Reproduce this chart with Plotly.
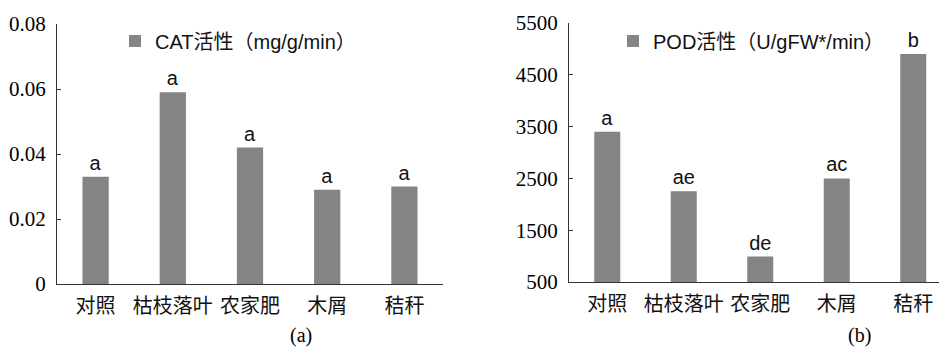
import plotly.graph_objects as go

# Treatments shared by both panels
categories = ["对照", "枯枝落叶", "农家肥", "木屑", "秸秆"]

# Panel (a): CAT activity
cat_values = [0.033, 0.059, 0.042, 0.029, 0.030]
cat_letters = ["a", "a", "a", "a", "a"]
cat_ticks = [0, 0.02, 0.04, 0.06, 0.08]
cat_ticktext = ["0", "0.02", "0.04", "0.06", "0.08"]

# Panel (b): POD activity
pod_values = [3400, 2250, 990, 2500, 4900]
pod_letters = ["a", "ae", "de", "ac", "b"]
pod_ticks = [500, 1500, 2500, 3500, 4500, 5500]
pod_ticktext = ["500", "1500", "2500", "3500", "4500", "5500"]

W, H = 939, 348
BAR = "#848484"
AXIS = "#333333"
SERIF = "Liberation Serif, Times New Roman, serif"
SANS = "Liberation Sans, Noto Sans CJK SC"
CJK = "Noto Sans CJK SC"


def px_x(p):
    return p / W


def px_y(p):
    return 1 - p / H


fig = go.Figure()

fig.add_trace(go.Bar(
    x=categories, y=cat_values, name="CAT活性（mg/g/min）",
    text=cat_letters, textposition="outside", cliponaxis=False,
    constraintext="none",
    textfont=dict(family=SANS, size=20, color="#111"),
    marker=dict(color=BAR, line=dict(width=0)),
    width=0.34, xaxis="x", yaxis="y", legend="legend",
))

fig.add_trace(go.Bar(
    x=categories, y=pod_values, name="POD活性（U/gFW*/min）",
    text=pod_letters, textposition="outside", cliponaxis=False,
    constraintext="none",
    textfont=dict(family=SANS, size=20, color="#111"),
    marker=dict(color=BAR, line=dict(width=0)),
    width=0.34, xaxis="x2", yaxis="y2", legend="legend2",
))

xcommon = dict(
    type="category", showline=True, linecolor=AXIS, linewidth=1,
    ticks="", showgrid=False, zeroline=False, automargin=False,
    tickfont=dict(family=CJK, size=20, color="#111"),
    ticklabelstandoff=4,
)
ycommon = dict(
    showline=True, linecolor=AXIS, linewidth=1, ticks="inside",
    ticklen=4, tickcolor=AXIS, showgrid=False, zeroline=False,
    automargin=False,
    tickfont=dict(family=SERIF, size=21, color="#000"),
    ticklabelstandoff=6,
)

left_x0, left_x1 = 57, 443
right_x0 = 569
right_span = (W - right_x0) / 76.5

fig.update_layout(
    width=W, height=H,
    margin=dict(l=0, r=0, t=0, b=0, autoexpand=False),
    paper_bgcolor="white", plot_bgcolor="white",
    showlegend=True,
    xaxis=dict(domain=[px_x(left_x0), px_x(left_x1)], range=[-0.5, 4.5],
               anchor="y", **xcommon),
    yaxis=dict(domain=[px_y(284), px_y(24)], range=[0, 0.08],
               tickvals=cat_ticks, ticktext=cat_ticktext, anchor="x",
               **ycommon),
    xaxis2=dict(domain=[px_x(right_x0), 1.0], range=[-0.5, -0.5 + right_span],
                anchor="y2", **xcommon),
    yaxis2=dict(domain=[px_y(282), px_y(23)], range=[500, 5500],
                tickvals=pod_ticks, ticktext=pod_ticktext, anchor="x2",
                **ycommon),
    legend=dict(x=px_x(115), y=px_y(41), xanchor="left", yanchor="middle",
                font=dict(family=SANS, size=20, color="#111"),
                bgcolor="rgba(0,0,0,0)", borderwidth=0),
    legend2=dict(x=px_x(613), y=px_y(41), xanchor="left", yanchor="middle",
                 font=dict(family=SANS, size=20, color="#111"),
                 bgcolor="rgba(0,0,0,0)", borderwidth=0),
    annotations=[
        dict(text="(a)", x=px_x(301), y=px_y(335), xref="paper", yref="paper",
             xanchor="center", yanchor="middle", showarrow=False,
             font=dict(family=SERIF, size=20, color="#000")),
        dict(text="(b)", x=px_x(859), y=px_y(335), xref="paper", yref="paper",
             xanchor="center", yanchor="middle", showarrow=False,
             font=dict(family=SERIF, size=20, color="#000")),
    ],
)

fig.write_html("out.html")
